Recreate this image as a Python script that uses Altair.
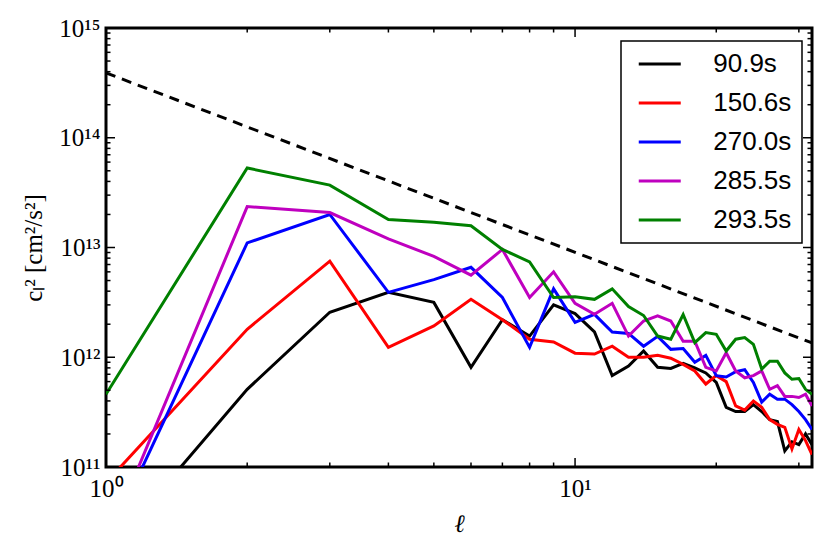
import altair as alt
import pandas as pd

ell = list(range(1, 33))
series_names = ["90.9s", "150.6s", "270.0s", "285.5s", "293.5s"]
series_colors = ["#000000", "#ff0000", "#0000ff", "#bf00bf", "#008000"]

s_909 = [1.6e10, 5.1e11, 2.57e12, 3.9e12, 3.16e12, 8.1e11, 2.2e12, 1.56e12, 3.0e12, 2.5e12,
         1.7e12, 6.8e11, 8.3e11, 1.14e12, 8.1e11, 7.9e11, 8.8e11, 8.0e11, 7.2e11, 5.9e11,
         3.5e11, 3.2e11, 3.2e11, 3.7e11, 3.2e11, 2.7e11, 2.6e11, 1.4e11, 1.7e11, 1.6e11,
         2.0e11, 1.6e11]
s_1506 = [7.2e10, 1.8e12, 7.5e12, 1.23e12, 1.93e12, 3.37e12, 2.2e12, 1.46e12, 1.38e12, 1.09e12,
          1.07e12, 1.26e12, 1.0e12, 1.0e12, 1.04e12, 9.8e11, 8.6e11, 7.5e11, 5.7e11, 6.8e11,
          6.0e11, 3.6e11, 3.3e11, 4.0e11, 3.5e11, 2.7e11, 2.45e11, 2.3e11, 1.46e11, 2.2e11,
          1.74e11, 1.3e11]
s_2700 = [1.95e10, 1.1e13, 2.0e13, 3.9e12, 5.1e12, 6.6e12, 3.5e12, 1.23e12, 4.2e12, 2.08e12,
          2.46e12, 1.7e12, 1.65e12, 1.26e12, 1.55e12, 1.18e12, 1.2e12, 9.0e11, 1.04e12, 6.8e11,
          6.6e11, 7.4e11, 7.7e11, 5.9e11, 3.9e11, 4.6e11, 4.15e11, 4.15e11, 3.7e11, 3.2e11,
          2.7e11, 2.2e11]
s_2855 = [1.95e10, 2.36e13, 2.08e13, 1.2e13, 8.3e12, 5.6e12, 9.6e12, 3.5e12, 6.0e12, 3.1e12,
          2.46e12, 3.1e12, 1.56e12, 2.14e12, 2.38e12, 2.14e12, 1.4e12, 1.4e12, 8.1e11, 7.5e11,
          1.1e12, 7.5e11, 6.5e11, 6.8e11, 7.5e11, 5.1e11, 5.5e11, 4.4e11, 4.4e11, 4.3e11,
          4.6e11, 3.6e11]
s_2935 = [4.6e11, 5.3e13, 3.7e13, 1.8e13, 1.7e13, 1.58e13, 9.6e12, 7.4e12, 3.5e12, 3.55e12,
          3.37e12, 4.2e12, 2.9e12, 2.4e12, 1.56e12, 1.46e12, 2.45e12, 1.36e12, 1.68e12, 1.62e12,
          1.14e12, 1.46e12, 1.51e12, 1.31e12, 7.8e11, 9.2e11, 9.2e11, 7.2e11, 6.3e11, 6.4e11,
          5.1e11, 4.6e11]

ref_ell = [1, 32]
ref_val = [3.9e14, 1.35e12]

x_major = [1, 10]
x_minor = [2, 3, 4, 5, 6, 7, 8, 9, 20, 30]
y_major = [1e11, 1e12, 1e13, 1e14, 1e15]
y_minor = [m * 10 ** e for e in range(11, 15) for m in range(2, 10)]

W, H = 706, 439

all_series = [s_909, s_1506, s_2700, s_2855, s_2935]
rows = []
for name, vals in zip(series_names, all_series):
    for l, v in zip(ell, vals):
        rows.append({"ell": l, "val": v, "series": name})
df = pd.DataFrame(rows)
df["order"] = df["series"].map({n: i for i, n in enumerate(series_names)})
ref_df = pd.DataFrame({"ell": ref_ell, "val": ref_val})

xscale = alt.Scale(type="log", domain=[1, 32], nice=False)
yscale = alt.Scale(type="log", domain=[1e11, 1e15], nice=False)

serif = "Liberation Serif"
sans = "Liberation Sans"

ylabel_expr = ("round(log(datum.value)/LN10)==11 ? '10¹¹' : "
               "round(log(datum.value)/LN10)==12 ? '10¹²' : "
               "round(log(datum.value)/LN10)==13 ? '10¹³' : "
               "round(log(datum.value)/LN10)==14 ? '10¹⁴' : '10¹⁵'")
xlabel_expr = "round(log(datum.value)/LN10)==0 ? '10⁰' : '10¹'"

xaxis = alt.Axis(values=x_major, labelExpr=xlabel_expr, title="ℓ",
                 ticks=False, domain=False, grid=False, labelFont=serif,
                 labelFontSize=25, labelPadding=9, titleFont=serif,
                 titleFontSize=25, titleFontStyle="italic", titleFontWeight="normal",
                 titlePadding=10, labelColor="black", titleColor="black",
                 labelFlush=False)
yaxis = alt.Axis(values=y_major, labelExpr=ylabel_expr,
                 title="cₗ² [cm²/s²]",
                 ticks=False, domain=False, grid=False, labelFont=serif,
                 labelFontSize=25, labelPadding=6, titleFont=serif,
                 titleFontSize=25, titleFontWeight="normal", titlePadding=12,
                 labelColor="black", titleColor="black", labelFlush=False)

lines = alt.Chart(df).mark_line(strokeWidth=3, clip=True).encode(
    x=alt.X("ell:Q", scale=xscale, axis=xaxis),
    y=alt.Y("val:Q", scale=yscale, axis=yaxis),
    color=alt.Color("series:N",
                    scale=alt.Scale(domain=series_names, range=series_colors),
                    sort=series_names,
                    legend=alt.Legend(title=None, orient="none", legendX=515, legendY=13,
                                      symbolType="M-4,0H4", symbolSize=110.25,
                                      symbolStrokeWidth=3, symbolOffset=15.75,
                                      labelFont=sans, labelFontSize=26, labelColor="black",
                                      labelOffset=40.5, padding=10, rowPadding=13,
                                      strokeColor="black", fillColor="white",
                                      cornerRadius=0)),
    order=alt.Order("order:Q"),
    detail="series:N",
)

ref = alt.Chart(ref_df).mark_line(color="black", strokeWidth=3, strokeDash=[10, 7],
                                  clip=True).encode(
    x=alt.X("ell:Q", scale=xscale),
    y=alt.Y("val:Q", scale=yscale),
)


def xticks(values, length):
    d = pd.DataFrame({"ell": values})
    bot = alt.Chart(d).mark_rule(color="black", strokeWidth=1.5).encode(
        x=alt.X("ell:Q", scale=xscale),
        y=alt.value(H), y2=alt.value(H - length))
    top = alt.Chart(d).mark_rule(color="black", strokeWidth=1.5).encode(
        x=alt.X("ell:Q", scale=xscale),
        y=alt.value(0), y2=alt.value(length))
    return [bot, top]


def yticks(values, length):
    d = pd.DataFrame({"val": values})
    left = alt.Chart(d).mark_rule(color="black", strokeWidth=1.5).encode(
        y=alt.Y("val:Q", scale=yscale),
        x=alt.value(0), x2=alt.value(length))
    right = alt.Chart(d).mark_rule(color="black", strokeWidth=1.5).encode(
        y=alt.Y("val:Q", scale=yscale),
        x=alt.value(W), x2=alt.value(W - length))
    return [left, right]


tick_layers = xticks(x_major, 9) + xticks(x_minor, 4.5) + yticks(y_major, 9) + yticks(y_minor, 4.5)

chart = alt.layer(lines, ref, *tick_layers).properties(
    width=W, height=H,
    autosize=alt.AutoSizeParams(type="none"),
    padding={"left": 98, "top": 20, "right": 6, "bottom": 70},
).configure(
    background="white",
    view=alt.ViewConfig(stroke="black", strokeWidth=3),
    legend=alt.LegendConfig(strokeWidth=1.5),
)

chart.save("out.html", embed_options={"renderer": "svg", "actions": False})
